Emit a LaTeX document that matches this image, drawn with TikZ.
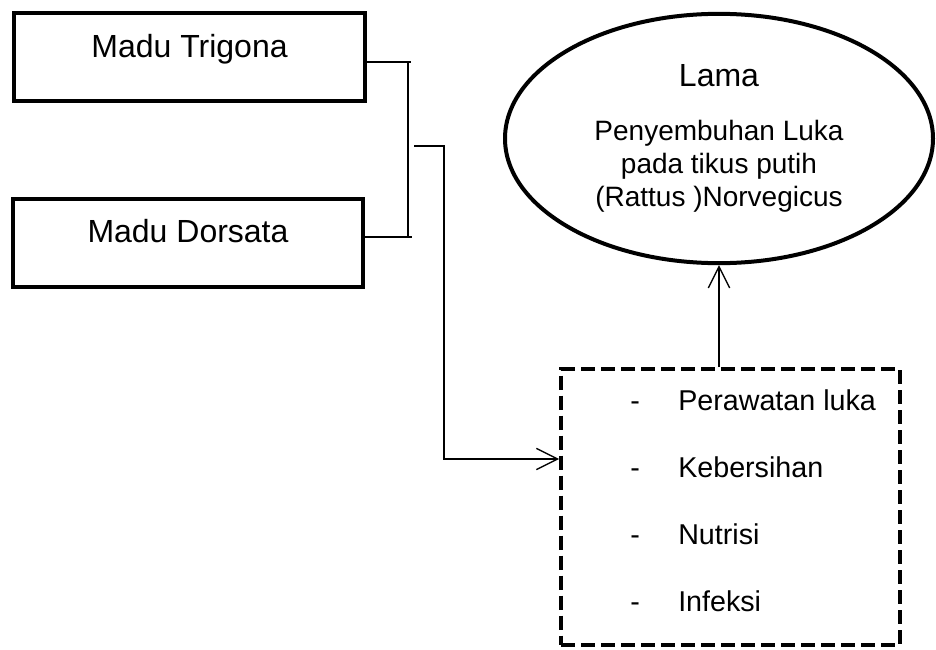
\documentclass[tikz,border=0pt]{standalone}
\usepackage{fontspec}
\setmainfont{Liberation Sans}
\usepackage{xcolor}
\usepackage{tikz}
\usetikzlibrary{shapes.geometric,arrows.meta}

\begin{document}
\begin{tikzpicture}[x=0.75pt,y=-0.75pt,
      honeybox/.style={rectangle, draw, line width=3pt, minimum width=263pt, minimum height=66pt,
        text height=0pt, text depth=0pt, font=\fontsize{24}{29}\selectfont},
      outcome/.style={ellipse, draw, line width=3pt, minimum width=321pt, minimum height=187pt,
        inner sep=0pt, align=center, font=\fontsize{21}{24.5}\selectfont},
      factorbox/.style={rectangle, draw, line width=3pt, dash pattern=on 10.5pt off 4.5pt,
        minimum width=254pt, minimum height=207pt},
      factor/.style={anchor=base west, inner sep=0pt, font=\fontsize{21.5}{26}\selectfont},
      wire/.style={line width=1pt},
      arrow/.style={wire, -{Straight Barb[length=16pt,width=16pt,line width=1pt]}}
      ]
      \useasboundingbox (0,0) rectangle (936,650);
      \node[honeybox] (trigona) at (189.5,57) {Madu Trigona};
      \node[honeybox] (dorsata) at (188,242.5) {Madu Dorsata};
      \node[outcome] (lama) at (719,138.5) {{\fontsize{24}{29}\selectfont Lama}\\[16pt]
        Penyembuhan Luka\\ pada tikus putih\\ (Rattus )Norvegicus};
      \node[factorbox] (factors) at (730.5,507) {};
      \foreach \factor [count=\i] in {Perawatan luka, Kebersihan, Nutrisi, Infeksi}
        \node[factor] (item\i) at (630,343+67*\i) {\makebox[36pt][l]{-}\factor};
      % bracket joining both honeys
      \coordinate (tt) at (411,62);
      \coordinate (tb) at (412,237);
      \coordinate (spine) at (408,0);
      \draw[wire] (trigona.east |- tt) -- (tt);
      \draw[wire] (dorsata.east |- tb) -- (tb);
      \draw[wire] (spine |- tt) -- (spine |- tb);
      \coordinate (fork) at (414,146);
      \coordinate (drop) at (444,459);
      \draw[arrow] (fork) -| (drop) -- (drop -| factors.west);
      \draw[arrow] (lama.south |- factors.north) -- (lama.south);
    \end{tikzpicture}
\end{document}
